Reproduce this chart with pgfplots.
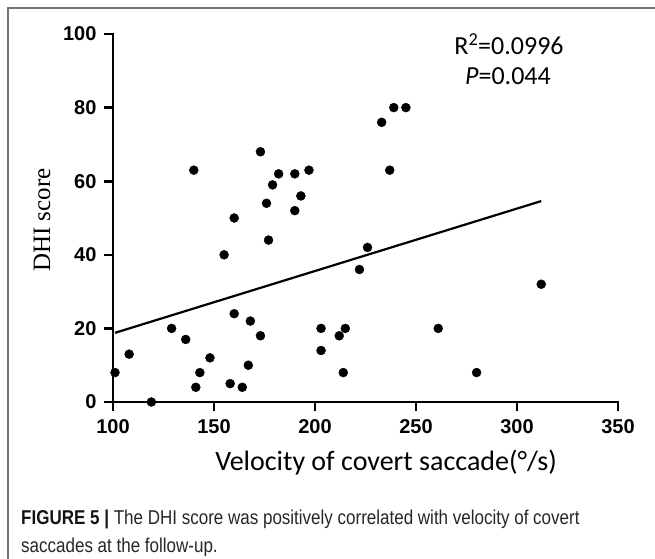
\documentclass[border=0pt]{standalone}
\usepackage{fontspec}
\setmainfont{Liberation Sans}
\newfontfamily\calib{Carlito}
\newfontfamily\timesf{Liberation Serif}
\newfontfamily\capf[FakeStretch=0.85]{Liberation Sans}
\usepackage{pgfplots}
\pgfplotsset{compat=1.18}
\begin{document}
\begin{tikzpicture}[x=1pt,y=1pt]
\useasboundingbox (-113,-156) rectangle (542,402);
\draw[line width=1.6pt, black!55] (-105,-170) -- (-105,394) -- (560,394);
\begin{axis}[
  at={(0,0)}, anchor=south west,
  scale only axis, width=505pt, height=368pt,
  xmin=100, xmax=350, ymin=0, ymax=100,
  xtick={100,150,...,350}, ytick={0,20,...,100},
  axis x line=bottom, axis y line=left,
  x axis line style={-}, y axis line style={-},
  axis line style={line width=2.6pt, line cap=rect},
  tick align=outside, major tick length=7pt,
  xtick style={black, line width=2.4pt}, ytick style={black, line width=2.4pt},
  /pgf/number format/assume math mode=true,
  tick label style={font=\bfseries\fontsize{20}{20}\selectfont},
  xticklabel style={yshift=-7pt},
  yticklabel style={xshift=-6pt},
  clip=false,
]
\addplot[only marks, mark=*, mark size=4.5pt, black] coordinates {
(101,8) (108,13) (119,0) (129,20) (136,17) (141,4) (143,8) (148,12)
(140,63) (155,40) (158,5) (160,50) (160,24) (164,4) (167,10) (168,22)
(173,68) (173,18) (176,54) (177,44) (179,59) (182,62) (190,62) (190,52)
(193,56) (197,63) (203,20) (203,14) (212,18) (214,8) (215,20) (222,36)
(226,42) (233,76) (237,63) (239,80) (245,80) (261,20) (280,8) (312,32)
};
\addplot[black, line width=2.2pt] coordinates {(101,18.8) (312,54.6)};
\end{axis}
% tick marks drawn as plain strokes along the axis lines
\foreach \t in {0,101,202,303,404,505} \draw[black, line width=2.6pt] (\t,0) -- (\t,-9);
\foreach \t in {0,73.6,147.2,220.8,294.4,368} \draw[black, line width=2.6pt] (0,\t) -- (-9,\t);
\node[font=\calib\fontsize{28}{28}\selectfont] at (273,-61) {Velocity of covert saccade(°/s)};
\node[rotate=90, font=\timesf\fontsize{25}{25}\selectfont] at (-71,182) {DHI score};
\node[font=\calib\fontsize{26}{26}\selectfont] at (396,358) {R\textsuperscript{2}=0.0996};
\node[font=\calib\fontsize{26}{26}\selectfont] at (395,326) {\textit{P}=0.044};
\node[anchor=base west, font=\capf\fontsize{20}{20}\selectfont, text=black!85, inner sep=0] at (-92,-122) {\textbf{\color{black!92}FIGURE 5 |} The DHI score was positively correlated with velocity of covert};
\node[anchor=base west, font=\capf\fontsize{20}{20}\selectfont, text=black!85, inner sep=0] at (-92,-150) {saccades at the follow-up.};
\end{tikzpicture}
\end{document}
